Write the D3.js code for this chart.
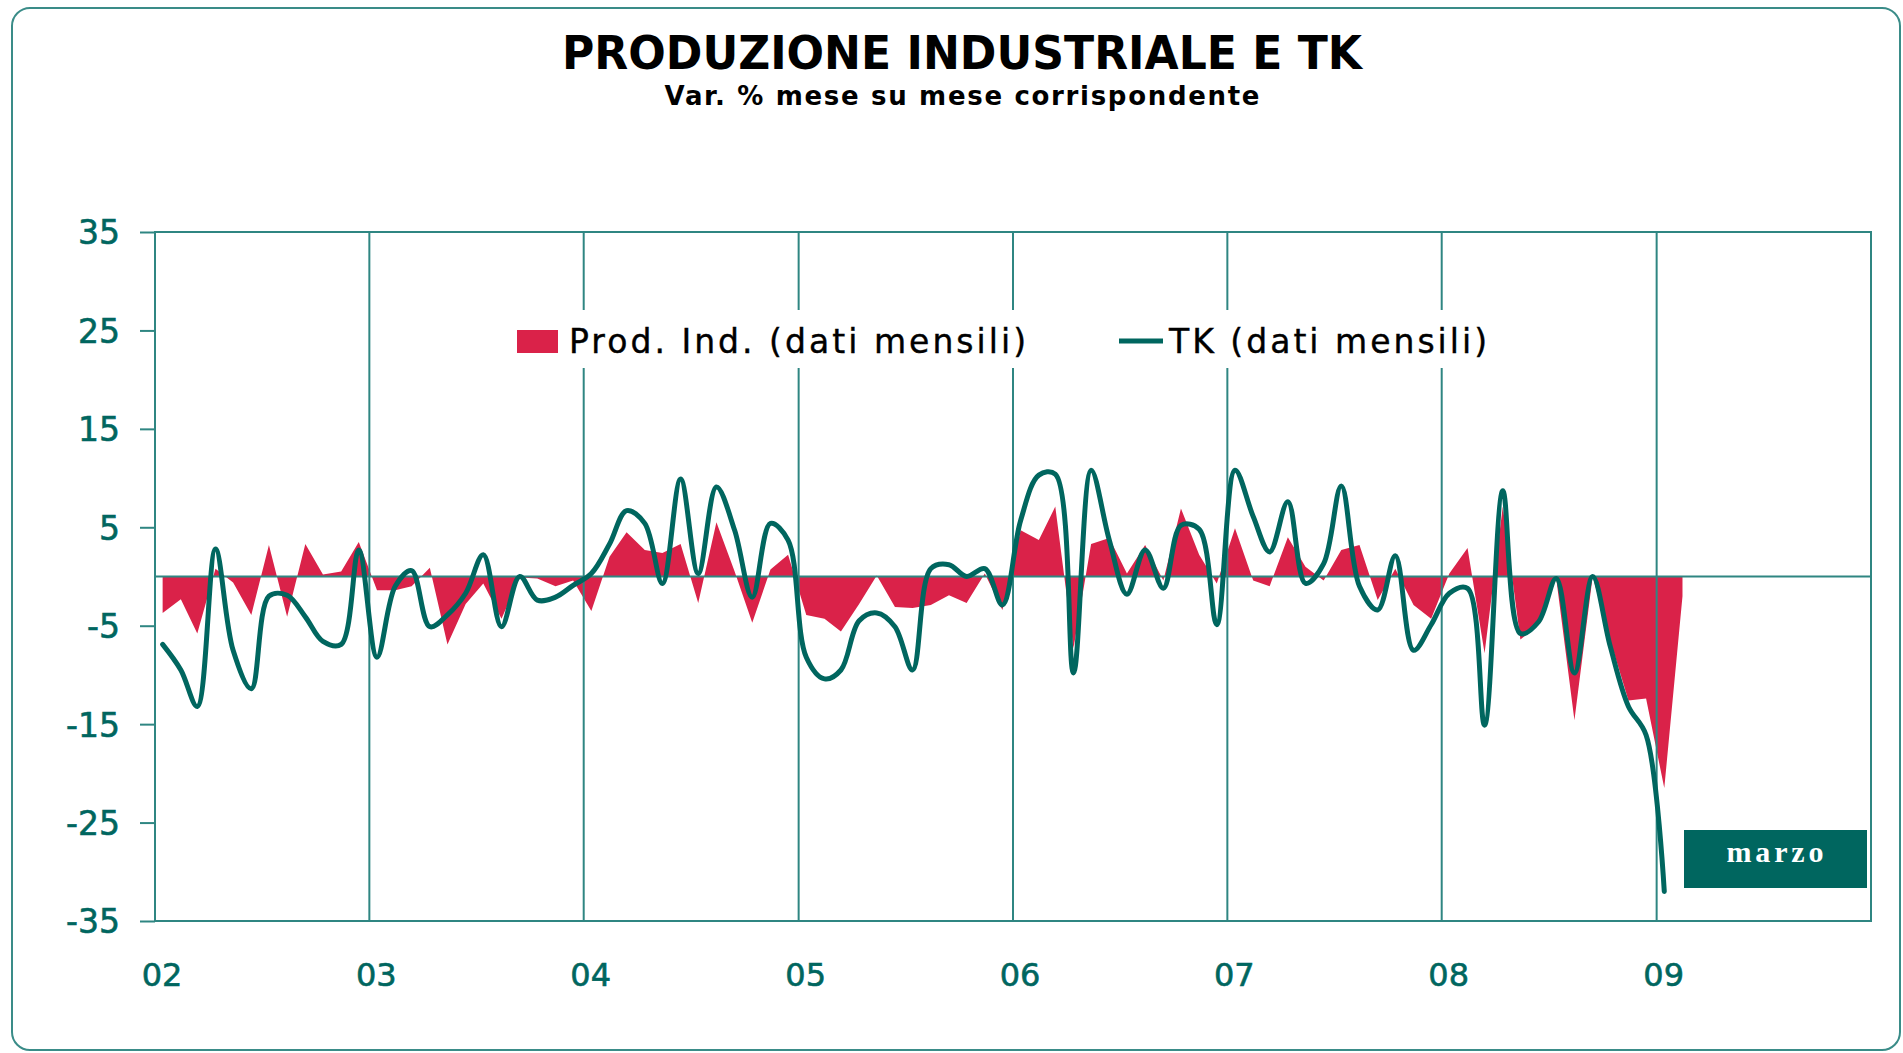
<!DOCTYPE html>
<html>
<head>
<meta charset="utf-8">
<script src="https://cdn.jsdelivr.net/npm/d3@7"></script>
<style>
  body { margin: 0; background: #fff; }
  svg { display: block; }
</style>
</head>
<body>
<div id="chart"></div>
<script>
// Prod. Ind. (dati mensili), var. % - gen 2002 .. feb 2009
const prodInd = [
  -3.7, -2.3, -5.8, 0.8, -0.6, -3.9, 3.2, -4.1, 3.3, 0.2, 0.5, 3.5,
  -1.4, -1.4, -1.0, 0.9, -6.9, -2.8, -0.7, -4.3, -0.1, -0.2, -1.0, -0.4,
  -3.5, 2.0, 4.5, 2.7, 2.4, 3.3, -2.7, 5.5, 0.5, -4.7, 0.7, 2.2,
  -3.9, -4.3, -5.6, -2.8, 0.1, -3.1, -3.2, -2.9, -1.9, -2.7, 0.3, -3.4,
  4.7, 3.7, 7.1, -7.3, 3.3, 3.9, 0.3, 3.2, -0.4, 6.9, 2.2, -0.7,
  4.9, -0.4, -1.0, 4.0, 1.0, -0.4, 2.7, 3.2, -2.4, 0.8, -2.9, -4.3,
  0.3, 2.9, -7.8, 7.1, -6.4, -4.9, -0.2, -14.6, 0.0, -6.5, -12.6, -12.4,
  -21.5, -2.0
]

// TK (dati mensili), var. % - gen 2002 .. gen 2009
const tk = [
  -6.9, -9.5, -13.2, 2.8, -7.5, -11.4, -2.0, -1.9, -4.1, -6.6, -6.9, 2.7,
  -8.2, -1.0, 0.6, -5.1, -3.9, -1.7, 2.2, -5.1, 0.0, -2.4, -2.1, -0.9,
  0.3, 3.3, 6.7, 5.4, -0.7, 9.9, 0.3, 9.1, 4.7, -2.1, 5.4, 3.7,
  -8.2, -10.4, -9.5, -4.5, -3.7, -5.1, -9.5, 0.8, 1.2, 0.0, 0.8, -2.9,
  5.7, 10.3, 10.4, -9.8, 10.8, 3.7, -1.8, 2.7, -1.2, 5.2, 4.8, -4.9,
  10.8, 6.1, 2.5, 7.6, -0.7, 1.3, 9.2, -1.0, -3.4, 2.1, -7.5, -4.9,
  -1.7, -1.2, -15.1, 8.7, -5.8, -4.6, -0.2, -9.8, 0.0, -7.1, -13.2, -16.1,
  -32.0
]

const yearLabels = ['02', '03', '04', '05', '06', '07', '08', '09']
const yTicks = [35, 25, 15, 5, -5, -15, -25, -35]
const legendLabels = ['Prod. Ind. (dati mensili)', 'TK (dati mensili)']
const title = 'PRODUZIONE INDUSTRIALE E TK'
const subtitle = 'Var. % mese su mese corrispondente'
const noteLabel = 'marzo'

const W = 1903
const H = 1053
const teal = '#00665f'
const gridColor = '#2f8682'
const red = '#da2249'

const svg = d3.select('#chart')
  .append('svg')
  .attr('width', W)
  .attr('height', H)

// cornice esterna
svg.append('rect')
  .attr('x', 12)
  .attr('y', 8)
  .attr('width', 1888)
  .attr('height', 1042)
  .attr('rx', 18)
  .attr('fill', '#fff')
  .attr('stroke', '#3a8c88')
  .attr('stroke-width', 2)

svg.append('text')
  .attr('x', 962)
  .attr('y', 69)
  .attr('text-anchor', 'middle')
  .attr('font-family', 'DejaVu Sans')
  .attr('font-weight', 'bold')
  .attr('font-size', 46)
  .attr('textLength', 800)
  .attr('lengthAdjust', 'spacingAndGlyphs')
  .attr('fill', '#000')
  .text(title)

svg.append('text')
  .attr('x', 962)
  .attr('y', 105)
  .attr('text-anchor', 'middle')
  .attr('font-family', 'DejaVu Sans')
  .attr('font-weight', 'bold')
  .attr('font-size', 26)
  .attr('textLength', 595)
  .attr('fill', '#000')
  .text(subtitle)

const plot = { left: 155, right: 1871, top: 232, bottom: 921 }

const dateOf = i => new Date(2002, i, 14)
const yearDates = yearLabels.map(l => new Date(2000 + Number(l), 0, 1))

const x = d3.scaleTime()
  .domain([new Date(2002, 0, 1), new Date(2010, 0, 1)])
  .range([plot.left, plot.right])

const y = d3.scaleLinear()
  .domain([-35, 35])
  .range([plot.bottom, plot.top])

// area Prod. Ind.
const area = d3.area()
  .x((d, i) => x(dateOf(i)))
  .y0(y(0))
  .y1(d => y(d))

svg.append('path')
  .datum(prodInd)
  .attr('fill', red)
  .attr('d', area)

// griglia verticale (anni)
svg.append('g')
  .selectAll('line')
  .data(yearDates.slice(1))
  .join('line')
  .attr('x1', d => x(d))
  .attr('x2', d => x(d))
  .attr('y1', plot.top)
  .attr('y2', plot.bottom)
  .attr('stroke', gridColor)
  .attr('stroke-width', 2)

// asse y con tacche verso sinistra
const yAxis = svg.append('g')
  .attr('transform', `translate(${plot.left},0)`)
  .call(d3.axisLeft(y).tickValues(yTicks).tickSize(15).tickPadding(20).tickFormat(d => String(d)))

yAxis.select('.domain').remove()
yAxis.selectAll('.tick line')
  .attr('stroke', gridColor)
  .attr('stroke-width', 2)
yAxis.selectAll('.tick text')
  .attr('fill', teal)
  .attr('stroke', teal)
  .attr('stroke-width', 0.6)
  .attr('font-family', 'DejaVu Sans')
  .attr('font-size', 33)
  .attr('dy', '0.36em')

// cornice del grafico e linea dello zero
const frame = svg.append('g')
  .attr('stroke', gridColor)
  .attr('stroke-width', 2)
  .attr('fill', 'none')

frame.append('path')
  .attr('d', `M${plot.left},${plot.top}H${plot.right}V${plot.bottom}H${plot.left}Z`)

frame.append('line')
  .attr('x1', plot.left)
  .attr('x2', plot.right)
  .attr('y1', y(0))
  .attr('y2', y(0))

// etichette anni
svg.append('g')
  .selectAll('text')
  .data(yearLabels)
  .join('text')
  .attr('x', (d, i) => x(yearDates[i]) + 7)
  .attr('y', 986)
  .attr('text-anchor', 'middle')
  .attr('font-family', 'DejaVu Sans')
  .attr('font-size', 32)
  .attr('fill', teal)
  .attr('stroke', teal)
  .attr('stroke-width', 0.6)
  .text(d => d)

// linea TK
const line = d3.line()
  .x((d, i) => x(dateOf(i)))
  .y(d => y(d))
  .curve(d3.curveCatmullRom.alpha(0.5))

svg.append('path')
  .datum(tk)
  .attr('fill', 'none')
  .attr('stroke', teal)
  .attr('stroke-width', 5)
  .attr('stroke-linejoin', 'round')
  .attr('stroke-linecap', 'round')
  .attr('d', line)

// legenda
const legend = svg.append('g')

legend.append('rect')
  .attr('x', 505)
  .attr('y', 310)
  .attr('width', 995)
  .attr('height', 58)
  .attr('fill', '#fff')

legend.append('rect')
  .attr('x', 517)
  .attr('y', 330)
  .attr('width', 41)
  .attr('height', 23)
  .attr('fill', red)

legend.append('line')
  .attr('x1', 1119)
  .attr('x2', 1163)
  .attr('y1', 341)
  .attr('y2', 341)
  .attr('stroke', teal)
  .attr('stroke-width', 5)

legend.selectAll('text')
  .data(legendLabels)
  .join('text')
  .attr('x', (d, i) => i === 0 ? 569 : 1169)
  .attr('y', 353)
  .attr('font-family', 'DejaVu Sans')
  .attr('font-size', 33)
  .attr('textLength', (d, i) => i === 0 ? 457 : 318)
  .attr('fill', '#000')
  .attr('stroke', '#000')
  .attr('stroke-width', 0.4)
  .text(d => d)

// riquadro "marzo"
svg.append('rect')
  .attr('x', 1684)
  .attr('y', 830)
  .attr('width', 183)
  .attr('height', 58)
  .attr('fill', teal)

svg.append('text')
  .attr('x', 1775)
  .attr('y', 862)
  .attr('text-anchor', 'middle')
  .attr('font-family', 'Liberation Serif')
  .attr('font-weight', 'bold')
  .attr('font-size', 30)
  .attr('textLength', 97)
  .attr('fill', '#fff')
  .text(noteLabel)
</script>
</body>
</html>
